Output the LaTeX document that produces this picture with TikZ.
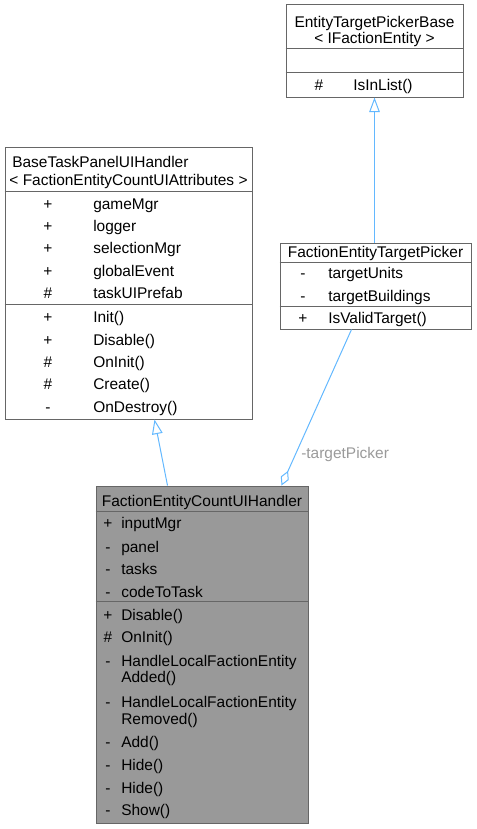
\documentclass[tikz,border=0pt]{standalone}
\usepackage{fontspec}
\setmainfont{Liberation Sans}
\usetikzlibrary{arrows.meta, fit, calc}
\definecolor{edgeblue}{HTML}{63B8FF}
\definecolor{boxline}{HTML}{666666}
\definecolor{boxgray}{HTML}{999999}
\definecolor{labelgray}{HTML}{9A9A9A}

\begin{document}
\begin{tikzpicture}[x=0.75pt, y=-0.75pt,
    every node/.style={font=\fontsize{11.6}{13.9}\selectfont},
    classbox/.style={rectangle, draw=boxline, line width=0.75pt, fill=white, inner sep=0},
    current/.style={classbox, fill=boxgray},
    sep/.style={draw=boxline, line width=0.75pt},
    txt/.style={inner sep=0, text height=8.2pt, text depth=0pt},
    vis/.style={txt, anchor=center},
    member/.style={txt, anchor=west},
    inherit/.style={-{Triangle[open, length=11pt, width=8pt]}, draw=edgeblue, line width=0.75pt},
    aggregate/.style={{Diamond[open, length=12pt, width=6.5pt]}-, draw=edgeblue, line width=0.75pt},
    rolelabel/.style={txt, anchor=west, text=labelgray}
]
\useasboundingbox (0,0) rectangle (477,829);
% Class boxes
\node[classbox, fit={(286,4) (463,97)}] (pickerbase) {};
\node[classbox, fit={(5,147) (252,419)}] (base) {};
\node[classbox, fit={(280,243) (471,329)}] (picker) {};
\node[current, fit={(96,486) (308,823)}] (count) {};
% Compartment separators
\draw[sep] (pickerbase.west |- 0,48) -- (pickerbase.east |- 0,48);
\draw[sep] (pickerbase.west |- 0,72) -- (pickerbase.east |- 0,72);
\draw[sep] (base.west |- 0,191) -- (base.east |- 0,191);
\draw[sep] (base.west |- 0,304) -- (base.east |- 0,304);
\draw[sep] (picker.west |- 0,262) -- (picker.east |- 0,262);
\draw[sep] (picker.west |- 0,306) -- (picker.east |- 0,306);
\draw[sep] (count.west |- 0,511) -- (count.east |- 0,511);
\draw[sep] (count.west |- 0,601) -- (count.east |- 0,601);
% EntityTargetPickerBase
\node[vis] (pbTitle) at (374.5,22) {EntityTargetPickerBase};
\node[vis] (pbParam) at (374.5,38) {< IFactionEntity >};
\node[vis] (isInListV) at (319,85) {\#};
\node[member] (isInList) at (353,85) {IsInList()};
% BaseTaskPanelUIHandler
\node[member] (baseTitle) at (12,162) {BaseTaskPanelUIHandler};
\node[vis] (baseParam) at (128.5,180) {< FactionEntityCountUIAttributes >};
\node[vis] (gameMgrV) at (48,204) {+};
\node[member] (gameMgr) at (93,204) {gameMgr};
\node[vis] (loggerV) at (48,226) {+};
\node[member] (logger) at (93,226) {logger};
\node[vis] (selectionMgrV) at (48,248) {+};
\node[member] (selectionMgr) at (93,248) {selectionMgr};
\node[vis] (globalEventV) at (48,271) {+};
\node[member] (globalEvent) at (93,271) {globalEvent};
\node[vis] (taskPrefabV) at (48,293) {\#};
\node[member] (taskPrefab) at (93,293) {taskUIPrefab};
\node[vis] (initV) at (48,317) {+};
\node[member] (init) at (93,317) {Init()};
\node[vis] (baseDisableV) at (48,340) {+};
\node[member] (baseDisable) at (93,340) {Disable()};
\node[vis] (baseOnInitV) at (48,362) {\#};
\node[member] (baseOnInit) at (93,362) {OnInit()};
\node[vis] (createV) at (48,384) {\#};
\node[member] (create) at (93,384) {Create()};
\node[vis] (onDestroyV) at (48,407) {-};
\node[member] (onDestroy) at (93,407) {OnDestroy()};
% FactionEntityTargetPicker
\node[vis] (pickerTitle) at (375.5,252) {FactionEntityTargetPicker};
\node[vis] (unitsV) at (303,273) {-};
\node[member] (units) at (328,273) {targetUnits};
\node[vis] (buildingsV) at (303,296) {-};
\node[member] (buildings) at (328,296) {targetBuildings};
\node[vis] (validV) at (303,318) {+};
\node[member] (valid) at (328,318) {IsValidTarget()};
% FactionEntityCountUIHandler
\node[vis] (countTitle) at (202,501) {FactionEntityCountUIHandler};
\node[vis] (inputMgrV) at (108,523) {+};
\node[member] (inputMgr) at (121,523) {inputMgr};
\node[vis] (panelV) at (108,547) {-};
\node[member] (panel) at (121,547) {panel};
\node[vis] (tasksV) at (108,569) {-};
\node[member] (tasks) at (121,569) {tasks};
\node[vis] (codeV) at (108,592) {-};
\node[member] (code) at (121,592) {codeToTask};
\node[vis] (disableV) at (108,615) {+};
\node[member] (disable) at (121,615) {Disable()};
\node[vis] (onInitV) at (108,637) {\#};
\node[member] (onInit) at (121,637) {OnInit()};
\node[vis] (addedV) at (108,661) {-};
\node[member] (addedA) at (121,661) {HandleLocalFactionEntity};
\node[member] (addedB) at (121,677) {Added()};
\node[vis] (removedV) at (108,702) {-};
\node[member] (removedA) at (121,702) {HandleLocalFactionEntity};
\node[member] (removedB) at (121,719) {Removed()};
\node[vis] (addV) at (108,742) {-};
\node[member] (add) at (121,742) {Add()};
\node[vis] (hideAV) at (108,765) {-};
\node[member] (hideA) at (121,765) {Hide()};
\node[vis] (hideBV) at (108,788) {-};
\node[member] (hideB) at (121,788) {Hide()};
\node[vis] (showV) at (108,810) {-};
\node[member] (show) at (121,810) {Show()};
% Relations
\draw[inherit] ($(count.north west)+(72,0)$) -- ($(base.south west)+(150,0)$);
\draw[inherit] (picker.north -| pickerbase.south) -- (pickerbase.south);
\draw[aggregate] ($(count.north west)+(186,0)$) -- ($(picker.south west)+(72,0)$);
\node[rolelabel] (roleLabel) at (301,453) {-targetPicker};
\end{tikzpicture}
\end{document}
